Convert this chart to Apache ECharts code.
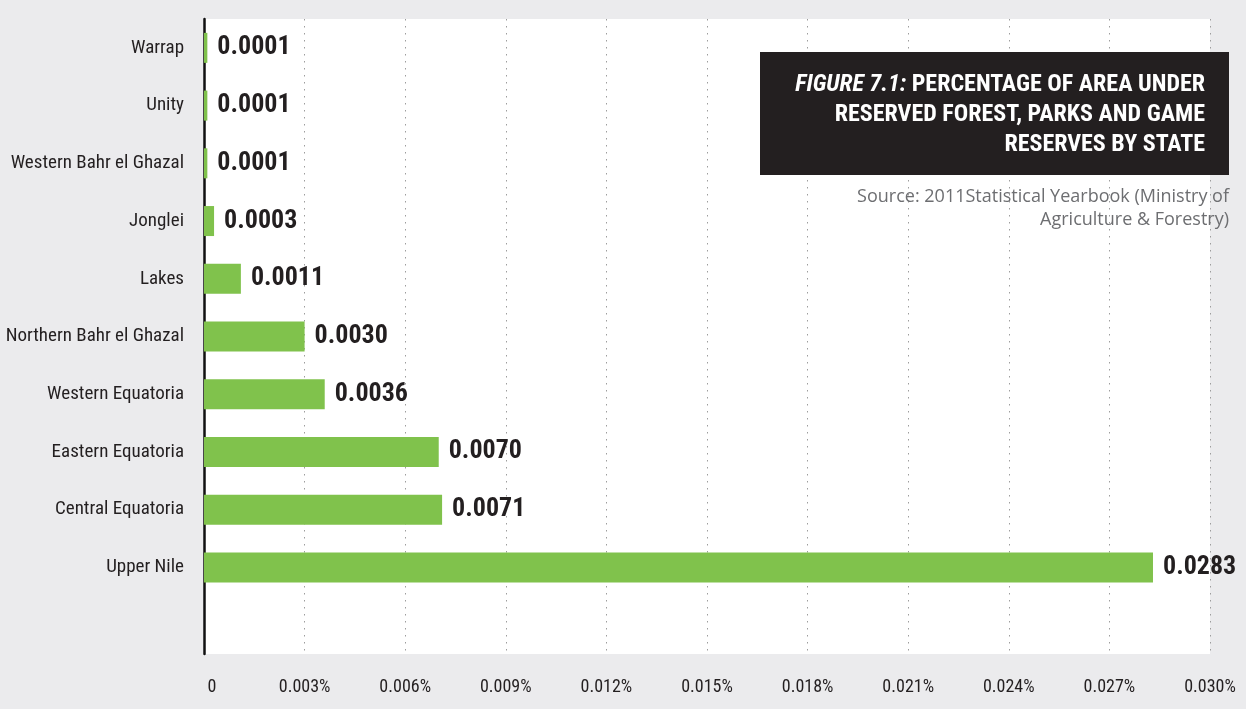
<!DOCTYPE html>
<html>
<head>
<meta charset="utf-8">
<title>Reserved forest, parks and game reserves by state</title>
<script src="https://cdn.jsdelivr.net/npm/echarts@6/dist/echarts.min.js"></script>
<style>
  html, body { margin: 0; padding: 0; background: #ebebed; }
  #chart { width: 1246px; height: 709px; }
</style>
</head>
<body>
<div id="chart"></div>
<script>
// States, top to bottom
const states = [
  'Warrap', 'Unity', 'Western Bahr el Ghazal', 'Jonglei', 'Lakes',
  'Northern Bahr el Ghazal', 'Western Equatoria', 'Eastern Equatoria',
  'Central Equatoria', 'Upper Nile'
];
// Percentage of area under reserved forest, parks and game reserves
const shares = [0.0001, 0.0001, 0.0001, 0.0003, 0.0011, 0.0030, 0.0036, 0.0070, 0.0071, 0.0283];
// Value axis tick labels (0 to 0.030 every 0.003)
const tickLabels = ['0', '0.003%', '0.006%', '0.009%', '0.012%', '0.015%',
  '0.018%', '0.021%', '0.024%', '0.027%', '0.030%'];

const titleLines = [
  '{i|FIGURE 7.1:} PERCENTAGE OF AREA UNDER',
  'RESERVED FOREST, PARKS AND GAME',
  'RESERVES BY STATE'
];
const sourceLines = ['Source: 2011Statistical Yearbook (Ministry of', 'Agriculture & Forestry)'];

const NARROW = '"Roboto Condensed", "Open Sans Condensed", sans-serif';
const INK = '#231f20';
const TICK = 0.003;

// one blank slot below the last state
const axisCats = states.concat(['']);
const barData = shares.concat([null]);

const chart = echarts.init(document.getElementById('chart'), null, { renderer: 'canvas' });

chart.setOption({
  backgroundColor: '#ebebed',
  animation: false,
  grid: {
    left: 204, right: 36, top: 19, bottom: 55,
    outerBoundsMode: 'none', containLabel: false,
    show: true, backgroundColor: '#ffffff', borderWidth: 0
  },
  xAxis: {
    type: 'value', min: 0, max: 0.03, interval: TICK,
    axisLine: { show: false }, axisTick: { show: false },
    splitLine: { show: true, lineStyle: { color: '#9d9d9d', type: [1.5, 5.5], width: 1 } },
    axisLabel: {
      margin: 24, color: INK, fontFamily: NARROW, fontSize: 18,
      formatter: v => {
        const i = Math.round(v / TICK);
        return i === 0 ? '{z|' + tickLabels[0] + '}' : tickLabels[i];
      },
      rich: { z: { fontFamily: NARROW, fontSize: 18, color: INK, padding: [0, 0, 0, 16] } }
    }
  },
  yAxis: {
    type: 'category', inverse: true, data: axisCats,
    axisLine: { show: true, onZero: false, lineStyle: { color: '#111111', width: 2.5 } },
    axisTick: { show: false },
    axisLabel: { margin: 20, color: INK, fontFamily: NARROW, fontSize: 19 }
  },
  series: [{
    type: 'bar', data: barData, barWidth: 30,
    itemStyle: { color: '#80c24c' },
    label: {
      show: true, position: 'right', distance: 10,
      color: INK, fontFamily: NARROW, fontWeight: 'bold', fontSize: 26,
      formatter: p => p.value == null ? '' : p.value.toFixed(4)
    }
  }],
  graphic: [
    { type: 'rect', x: 760, y: 52, shape: { width: 469, height: 123 }, style: { fill: INK }, z: 10 },
    {
      type: 'text', x: 1205, y: 70, z: 11,
      style: {
        text: titleLines.join('\n'), align: 'right', verticalAlign: 'top',
        fill: '#ffffff', font: 'bold 24px ' + NARROW, lineHeight: 30,
        rich: { i: { fontStyle: 'italic', fontWeight: 'bold', fontFamily: NARROW, fontSize: 24, fill: '#ffffff', lineHeight: 30 } }
      }
    },
    {
      type: 'text', x: 1229, y: 185, z: 11,
      style: {
        text: sourceLines.join('\n'), align: 'right', verticalAlign: 'top',
        fill: '#6d6e71', font: '18px "Open Sans", sans-serif', lineHeight: 23
      }
    }
  ]
});
</script>
</body>
</html>
